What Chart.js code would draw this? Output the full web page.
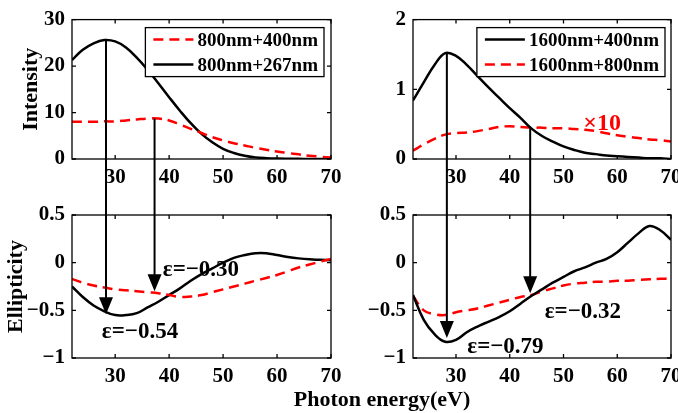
<!DOCTYPE html>
<html>
<head>
<meta charset="utf-8">
<script src="https://cdn.jsdelivr.net/npm/chart.js@4.4.0/dist/chart.umd.min.js"></script>
<style>
  body { margin: 0; background: #fff; }
  #wrap { position: relative; width: 678px; height: 413px; overflow: hidden; }
  canvas { position: absolute; }
  #xlabel { position: absolute; left: 232px; width: 300px; top: 386px; text-align: center;
            font: bold 22px 'Liberation Serif', 'Times New Roman', serif; color: #000; }
</style>
</head>
<body>
<div id="wrap">
  <canvas id="tl" width="350" height="190" style="left:0;top:0"></canvas>
  <canvas id="tr" width="360" height="190" style="left:340px;top:0"></canvas>
  <canvas id="bl" width="350" height="200" style="left:0;top:190px"></canvas>
  <canvas id="br" width="360" height="200" style="left:340px;top:190px"></canvas>
  <div id="xlabel">Photon energy(eV)</div>
</div>
<script>
// photon energy grid (eV)
const energy = [22, 24, 26, 28, 30, 32, 34, 36, 38, 40, 42, 44, 46, 48, 50, 52, 54, 56, 58, 60, 62, 64, 66, 68, 70];

// intensity
const int800_400  = [8.0, 8.0, 8.0, 8.1, 8.1, 8.3, 8.5, 8.7, 8.7, 8.3, 7.4, 6.5, 5.6, 4.7, 4.0, 3.4, 2.9, 2.4, 2.0, 1.6, 1.3, 1.0, 0.7, 0.5, 0.3];
const int800_267  = [21.3, 23.5, 24.9, 25.6, 25.3, 24.0, 21.8, 19.2, 16.3, 13.3, 10.4, 7.7, 5.4, 3.6, 2.2, 1.3, 0.7, 0.35, 0.18, 0.09, 0.05, 0.03, 0.02, 0.01, 0];
const int1600_400 = [0.84, 1.10, 1.35, 1.52, 1.48, 1.35, 1.19, 1.03, 0.88, 0.73, 0.59, 0.44, 0.33, 0.25, 0.18, 0.13, 0.09, 0.07, 0.05, 0.04, 0.03, 0.02, 0.01, 0.01, 0];
const int1600_800 = [0.12, 0.21, 0.29, 0.35, 0.37, 0.38, 0.40, 0.43, 0.46, 0.47, 0.46, 0.45, 0.45, 0.44, 0.44, 0.43, 0.42, 0.40, 0.37, 0.34, 0.32, 0.30, 0.28, 0.27, 0.25]; // x10

// ellipticity
const ell800_400  = [-0.17, -0.21, -0.24, -0.26, -0.28, -0.29, -0.30, -0.31, -0.32, -0.34, -0.36, -0.355, -0.34, -0.31, -0.28, -0.25, -0.22, -0.19, -0.16, -0.13, -0.09, -0.05, -0.02, 0.01, 0.04];
const ell800_267  = [-0.25, -0.36, -0.45, -0.51, -0.55, -0.55, -0.53, -0.47, -0.41, -0.34, -0.27, -0.19, -0.12, -0.06, 0.00, 0.05, 0.08, 0.10, 0.10, 0.08, 0.06, 0.045, 0.035, 0.03, 0.025];
const ell1600_400 = [-0.34, -0.60, -0.75, -0.83, -0.81, -0.73, -0.67, -0.62, -0.57, -0.51, -0.43, -0.35, -0.28, -0.21, -0.15, -0.09, -0.05, 0.00, 0.04, 0.11, 0.21, 0.31, 0.385, 0.34, 0.24];
const ell1600_800 = [-0.35, -0.50, -0.54, -0.55, -0.52, -0.50, -0.48, -0.45, -0.42, -0.39, -0.36, -0.34, -0.30, -0.27, -0.24, -0.22, -0.21, -0.20, -0.20, -0.19, -0.19, -0.18, -0.175, -0.17, -0.165];

// ticks
const xTicks = [30, 40, 50, 60, 70];
const intTicksLeft = [0, 10, 20, 30];
const intTicksRight = [0, 1, 2];
const ellTicks = [-1, -0.5, 0, 0.5];

// arrows: energy, intensity at start, ellipticity at tip
const arrowEnergyL = [28.3, 37.3];
const arrowIntL = [25.6, 8.7];
const arrowEllL = [-0.54, -0.30];
const arrowEnergyR = [28.3, 43.8];
const arrowIntR = [1.53, 0.44];
const arrowEllR = [-0.79, -0.32];

const FONT = "'Liberation Serif', 'Times New Roman', serif";
Chart.defaults.font.family = FONT;
Chart.defaults.font.weight = 'bold';
Chart.defaults.color = '#000';

const BLACK = '#000';
const RED = '#ff0000';
const DASH = [10, 6];

function fmt(v) {
  return (v < 0 ? '\u2212' : '') + Math.abs(v);
}

function framePlugin(o) {
  return {
    id: 'frame_' + o.id,
    afterDraw(chart) {
      const ctx = chart.ctx;
      const { left, right, top, bottom } = chart.chartArea;
      const xs = chart.scales.x, ys = chart.scales.y;
      ctx.save();
      ctx.strokeStyle = '#000';
      ctx.lineWidth = 1.3;
      ctx.strokeRect(left, top, right - left, bottom - top);
      ctx.beginPath();
      xTicks.forEach(v => {
        const px = xs.getPixelForValue(v);
        ctx.moveTo(px, bottom); ctx.lineTo(px, bottom - 4);
        ctx.moveTo(px, top); ctx.lineTo(px, top + 4);
      });
      o.yTicks.forEach(v => {
        const py = ys.getPixelForValue(v);
        ctx.moveTo(left, py); ctx.lineTo(left + 4, py);
        ctx.moveTo(right, py); ctx.lineTo(right - 4, py);
      });
      ctx.stroke();

      // arrows
      if (o.arrows) {
        ctx.strokeStyle = '#000';
        ctx.fillStyle = '#000';
        ctx.lineWidth = 2;
        o.arrows.energy.forEach((e, i) => {
          const px = xs.getPixelForValue(e);
          const py = ys.getPixelForValue(o.arrows.values[i]);
          ctx.beginPath();
          if (o.arrows.part === 'top') {
            ctx.moveTo(px, py); ctx.lineTo(px, chart.height);
            ctx.stroke();
          } else {
            const headL = 17, headW = 7;
            ctx.moveTo(px, 0); ctx.lineTo(px, py - headL + 2);
            ctx.stroke();
            ctx.beginPath();
            ctx.moveTo(px, py);
            ctx.lineTo(px - headW, py - headL);
            ctx.lineTo(px + headW, py - headL);
            ctx.closePath();
            ctx.fill();
          }
        });
      }

      // notes
      (o.notes || []).forEach(n => {
        ctx.font = 'bold ' + n.size + 'px ' + FONT;
        ctx.fillStyle = n.color;
        ctx.textAlign = 'center';
        ctx.textBaseline = 'middle';
        ctx.fillText(n.text, xs.getPixelForValue(n.x), ys.getPixelForValue(n.y));
      });

      // legend
      if (o.legend) {
        ctx.font = 'bold 19px ' + FONT;
        const ds = chart.data.datasets;
        const tw = Math.max(...ds.map(d => ctx.measureText(d.label).width));
        const bw = 8 + 40 + 4 + tw + 6;
        const bh = 49;
        const bx = right - o.legend.inset - bw;
        const by = top + 8;
        ctx.fillStyle = '#fff';
        ctx.fillRect(bx, by, bw, bh);
        ctx.lineWidth = 1.3;
        ctx.strokeStyle = '#000';
        ctx.strokeRect(bx, by, bw, bh);
        ds.forEach((d, i) => {
          const cy = by + 12 + i * 25;
          ctx.beginPath();
          ctx.strokeStyle = d.borderColor;
          ctx.lineWidth = 2.5;
          ctx.setLineDash(d.borderDash || []);
          ctx.moveTo(bx + 8, cy); ctx.lineTo(bx + 48, cy);
          ctx.stroke();
          ctx.setLineDash([]);
          ctx.fillStyle = '#000';
          ctx.textAlign = 'left';
          ctx.textBaseline = 'middle';
          ctx.fillText(d.label, bx + 52, cy + 1);
        });
      }
      ctx.restore();
    }
  };
}

function panel(o) {
  return new Chart(document.getElementById(o.id), {
    type: 'line',
    data: {
      datasets: o.series.map(s => ({
        label: s.label,
        data: energy.map((e, i) => ({ x: e, y: s.values[i] })),
        borderColor: s.color,
        borderWidth: 2.5,
        borderDash: s.dash || [],
        pointRadius: 0,
        tension: 0.4,
        fill: false
      }))
    },
    options: {
      responsive: false,
      animation: false,
      layout: { padding: o.pad },
      plugins: { legend: { display: false }, tooltip: { enabled: false } },
      scales: {
        x: {
          type: 'linear', min: 22, max: 70,
          grid: { display: false, drawTicks: false },
          border: { display: false },
          ticks: { padding: 6, font: { size: 21, weight: 'bold' }, color: '#000', maxRotation: 0 },
          afterBuildTicks: s => { s.ticks = xTicks.map(v => ({ value: v })); },
          afterFit: s => { s.height = o.xH; }
        },
        y: {
          min: o.yTicks[0], max: o.yTicks[o.yTicks.length - 1],
          grid: { display: false, drawTicks: false },
          border: { display: false },
          ticks: { padding: 7, font: { size: 21, weight: 'bold' }, color: '#000', callback: v => fmt(v) },
          afterBuildTicks: s => { s.ticks = o.yTicks.map(v => ({ value: v })); },
          afterFit: s => { s.width = o.yW; },
          title: {
            display: !!o.yTitle, text: o.yTitle || '', color: '#000',
            font: { size: 22, weight: 'bold' },
            padding: { top: o.titlePad || 0, bottom: 0 }
          }
        }
      }
    },
    plugins: [framePlugin(o)]
  });
}

panel({
  id: 'tl', pad: { left: 0, right: 19, top: 15, bottom: 0 }, xH: 31, yW: 72,
  yTicks: intTicksLeft, yTitle: 'Intensity', titlePad: 18,
  series: [
    { label: '800nm+400nm', values: int800_400, color: RED, dash: DASH },
    { label: '800nm+267nm', values: int800_267, color: BLACK }
  ],
  legend: { inset: 7 },
  arrows: { part: 'top', energy: arrowEnergyL, values: arrowIntL }
});

panel({
  id: 'tr', pad: { left: 0, right: 29, top: 15, bottom: 0 }, xH: 31, yW: 73,
  yTicks: intTicksRight,
  series: [
    { label: '1600nm+400nm', values: int1600_400, color: BLACK },
    { label: '1600nm+800nm', values: int1600_800, color: RED, dash: DASH }
  ],
  legend: { inset: 6 },
  arrows: { part: 'top', energy: arrowEnergyR, values: arrowIntR },
  notes: [{ text: '\u00d710', x: 57.2, y: 0.51, color: RED, size: 24 }]
});

panel({
  id: 'bl', pad: { left: 0, right: 19, top: 25, bottom: 0 }, xH: 32, yW: 72,
  yTicks: ellTicks, yTitle: 'Ellipticity', titlePad: 3,
  series: [
    { label: '800nm+400nm', values: ell800_400, color: RED, dash: DASH },
    { label: '800nm+267nm', values: ell800_267, color: BLACK }
  ],
  arrows: { part: 'bottom', energy: arrowEnergyL, values: arrowEllL },
  notes: [
    { text: '\u03b5=\u22120.30', x: 45.9, y: -0.08, color: BLACK, size: 23 },
    { text: '\u03b5=\u22120.54', x: 34.6, y: -0.73, color: BLACK, size: 23 }
  ]
});

panel({
  id: 'br', pad: { left: 0, right: 29, top: 25, bottom: 0 }, xH: 32, yW: 73,
  yTicks: ellTicks,
  series: [
    { label: '1600nm+400nm', values: ell1600_400, color: BLACK },
    { label: '1600nm+800nm', values: ell1600_800, color: RED, dash: DASH }
  ],
  arrows: { part: 'bottom', energy: arrowEnergyR, values: arrowEllR },
  notes: [
    { text: '\u03b5=\u22120.32', x: 53.6, y: -0.52, color: BLACK, size: 23 },
    { text: '\u03b5=\u22120.79', x: 39.2, y: -0.885, color: BLACK, size: 23 }
  ]
});
</script>
</body>
</html>
